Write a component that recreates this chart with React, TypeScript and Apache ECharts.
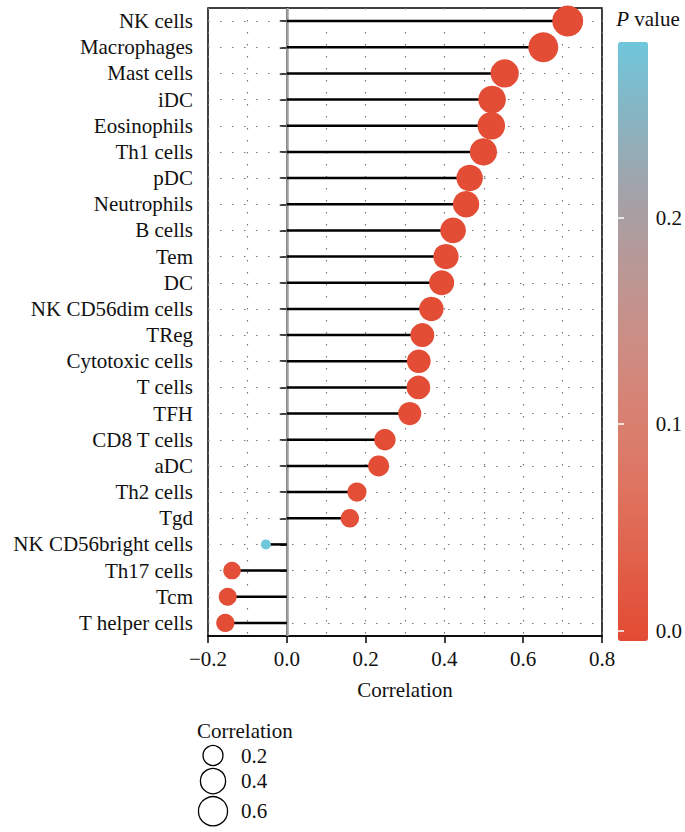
import React, { useEffect, useRef } from "react";
import * as echarts from "echarts";

const categories = [
  "NK cells", "Macrophages", "Mast cells", "iDC", "Eosinophils", "Th1 cells",
  "pDC", "Neutrophils", "B cells", "Tem", "DC", "NK CD56dim cells", "TReg",
  "Cytotoxic cells", "T cells", "TFH", "CD8 T cells", "aDC", "Th2 cells", "Tgd",
  "NK CD56bright cells", "Th17 cells", "Tcm", "T helper cells",
];
const correlation = [
  0.713, 0.651, 0.553, 0.521, 0.519, 0.499, 0.464, 0.455, 0.422, 0.404, 0.393,
  0.367, 0.344, 0.335, 0.334, 0.312, 0.249, 0.233, 0.178, 0.16, -0.053, -0.139,
  -0.15, -0.156,
];
const pValues = [
  0, 0, 0, 0, 0, 0, 0, 0, 0, 0, 0, 0, 0, 0, 0, 0, 0.001, 0.001, 0.002, 0.003,
  0.285, 0.004, 0.002, 0.001,
];
const pValueTicks = [0, 0.1, 0.2];
const sizeBreaks = [0.2, 0.4, 0.6];
const pColors = [
  "#E34A33", "#E15F48", "#DE735F", "#D88171", "#CC8D84", "#B99896", "#A2A3A9",
  "#88B4C2", "#6FC7DB",
];

const FONT = '"Liberation Serif", "DejaVu Serif", serif';
const FS = 21;
const TXT = "#111";

const absVals = correlation.map((v) => Math.abs(v));
const rMin = Math.min(...absVals);
const rMax = Math.max(...absVals);
const D_MIN = 10;
const D_MAX = 31;
const sizeOf = (r: number) =>
  D_MIN + (D_MAX - D_MIN) * Math.sqrt(Math.max(0, (Math.abs(r) - rMin) / (rMax - rMin)));

const fmt = (v: number) => (v < 0 ? "\u2212" + Math.abs(v).toFixed(1) : v.toFixed(1));

export default function App() {
  const ref = useRef<HTMLDivElement>(null);
  useEffect(() => {
    const chart = echarts.init(ref.current!, null, { renderer: "svg" });

    const dotted = { color: "#777", width: 1.2, type: [1.5, 10.5] as any };

    const legendEls: any[] = [
      {
        type: "text",
        x: 197,
        y: 731,
        style: { text: "Correlation", fontSize: FS, fontFamily: FONT, fill: TXT, align: "left", verticalAlign: "middle" },
      },
    ];
    let cy = 755.5;
    let prevH = 0;
    sizeBreaks.forEach((b, i) => {
      const d = sizeOf(b);
      const h = d + 3;
      if (i > 0) cy += (prevH + h) / 2;
      prevH = h;
      legendEls.push({
        type: "circle",
        shape: { cx: 213, cy, r: d / 2 },
        style: { fill: "none", stroke: "#000", lineWidth: 1.3 },
      });
      legendEls.push({
        type: "text",
        x: 241,
        y: cy,
        style: { text: b.toFixed(1), fontSize: FS, fontFamily: FONT, fill: TXT, align: "left", verticalAlign: "middle" },
      });
    });

    const pMin = -0.005;
    const pMax = 0.285;

    const option: any = {
      animation: false,
      backgroundColor: "#fff",
      textStyle: { fontFamily: FONT },
      grid: [
        { left: 208, right: 83, top: 8, bottom: 196, show: true, borderColor: "#000", borderWidth: 1.5 },
        { left: 618, width: 30, top: 42, height: 599 },
      ],
      xAxis: [
        {
          type: "value",
          gridIndex: 0,
          min: -0.2,
          max: 0.8,
          interval: 0.2,
          name: "Correlation",
          nameLocation: "middle",
          nameGap: 43,
          nameTextStyle: { fontSize: FS, fontFamily: FONT, color: TXT },
          axisLine: { show: true, onZero: false, lineStyle: { color: "#000", width: 1.5 } },
          axisTick: { show: true, length: 7, lineStyle: { color: "#000", width: 1.5 } },
          axisLabel: { fontSize: FS, fontFamily: FONT, color: TXT, margin: 12, formatter: fmt },
          splitLine: { show: true, lineStyle: dotted },
          minorTick: { show: false, splitNumber: 2 },
          minorSplitLine: { show: true, lineStyle: dotted },
        },
        { type: "value", gridIndex: 1, show: false, min: 0, max: 1 },
      ],
      yAxis: [
        {
          type: "category",
          gridIndex: 0,
          data: categories,
          inverse: true,
          axisLine: { show: true, lineStyle: { color: "#000", width: 1.5 } },
          axisTick: { show: true, length: 7, interval: 0, alignWithLabel: true, lineStyle: { color: "#000", width: 1.5 } },
          axisLabel: { fontSize: FS, fontFamily: FONT, color: TXT, margin: 15, interval: 0, hideOverlap: false },
          splitLine: { show: false },
        },
        {
          type: "value",
          gridIndex: 1,
          position: "right",
          min: pMin,
          max: pMax,
          z: 10,
          axisLine: { show: false },
          axisTick: {
            show: true,
            inside: true,
            length: 6,
            customValues: pValueTicks,
            lineStyle: { color: "#fff", width: 1.5 },
          },
          axisLabel: {
            fontSize: FS,
            fontFamily: FONT,
            color: TXT,
            margin: 17,
            customValues: pValueTicks,
            formatter: (v: number) => v.toFixed(1),
          },
          splitLine: { show: false },
        },
        {
          type: "value",
          gridIndex: 1,
          position: "left",
          min: pMin,
          max: pMax,
          z: 10,
          axisLine: { show: false },
          axisTick: {
            show: true,
            inside: true,
            length: 6,
            customValues: pValueTicks,
            lineStyle: { color: "#fff", width: 1.5 },
          },
          axisLabel: { show: false },
          splitLine: { show: false },
        },
      ],
      visualMap: {
        type: "continuous",
        show: true,
        min: pMin,
        max: pMax,
        dimension: 2,
        seriesIndex: 1,
        calculable: false,
        hoverLink: false,
        left: 618,
        top: 42,
        padding: 0,
        itemWidth: 30,
        itemHeight: 599,
        text: null,
        inRange: { color: pColors },
        z: 2,
      },
      series: [
        {
          type: "bar",
          xAxisIndex: 0,
          yAxisIndex: 0,
          data: correlation,
          barWidth: 2.5,
          itemStyle: { color: "#000" },
          silent: true,
          z: 3,
          markLine: {
            silent: true,
            symbol: ["none", "none"],
            label: { show: false },
            z: 1,
            data: [
              ...categories.map((c) => ({ yAxis: c, lineStyle: dotted })),
              { xAxis: 0, lineStyle: { color: "#A0A0A0", width: 2.5, type: "solid" } },
            ],
          },
        },
        {
          type: "scatter",
          xAxisIndex: 0,
          yAxisIndex: 0,
          z: 4,
          data: correlation.map((v, i) => [v, categories[i], pValues[i]]),
          symbol: "circle",
          symbolSize: (val: any) => sizeOf(val[0]),
          itemStyle: { opacity: 1 },
        },
      ],
      graphic: [
        {
          type: "text",
          x: 648,
          y: 19,
          style: {
            text: "{i|P} value",
            rich: {
              i: { fontStyle: "italic", fontSize: FS, fontFamily: FONT, fill: TXT },
            },
            fontSize: FS,
            fontFamily: FONT,
            fill: TXT,
            align: "center",
            verticalAlign: "middle",
          },
        },
        ...legendEls,
      ],
    };
    chart.setOption(option);
    return () => chart.dispose();
  }, []);
  return (
    <div
      ref={ref}
      style={{ position: "fixed", left: 0, top: 0, width: 685, height: 832 }}
    />
  );
}
